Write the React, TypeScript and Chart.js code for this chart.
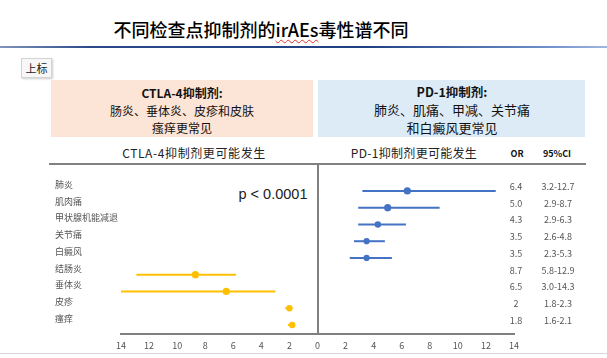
import React, { useEffect, useRef } from 'react';
import { Chart, registerables } from 'chart.js';

Chart.register(...registerables);

// ---------- data ----------
const categories = ['肺炎', '肌肉痛', '甲状腺机能减退', '关节痛', '白癜风', '结肠炎', '垂体炎', '皮疹', '瘙痒'];
const oddsRatios = [6.4, 5.0, 4.3, 3.5, 3.5, 8.7, 6.5, 2, 1.8];
const ciLower = [3.2, 2.9, 2.9, 2.6, 2.3, 5.8, 3.0, 1.8, 1.6];
const ciUpper = [12.7, 8.7, 6.3, 4.8, 5.3, 12.9, 14.3, 2.3, 2.1];
const favoredDrug = ['PD-1', 'PD-1', 'PD-1', 'PD-1', 'PD-1', 'CTLA-4', 'CTLA-4', 'CTLA-4', 'CTLA-4'];
const orLabels = ['6.4', '5.0', '4.3', '3.5', '3.5', '8.7', '6.5', '2', '1.8'];
const ciLabels = ['3.2-12.7', '2.9-8.7', '2.9-6.3', '2.6-4.8', '2.3-5.3', '5.8-12.9', '3.0-14.3', '1.8-2.3', '1.6-2.1'];
const xTickValues = [-14, -12, -10, -8, -6, -4, -2, 0, 2, 4, 6, 8, 10, 12, 14];
const xTickLabels = ['14', '12', '10', '8', '6', '4', '2', '0', '2', '4', '6', '8', '10', '12', '14'];

const FONT = '"Noto Sans CJK SC", "Noto Sans", sans-serif';
const BLUE = '#4472C4';
const GOLD = '#FFC000';
const GRAY = '#808080';

const sign = (i: number) => (favoredDrug[i] === 'PD-1' ? 1 : -1);

const forestPlugin = {
  id: 'forest',
  beforeDatasetsDraw(chart: any) {
    const { ctx, chartArea, scales } = chart;
    const x = scales.x;
    const y = scales.y;
    ctx.save();
    ctx.beginPath();
    ctx.rect(chartArea.left, chartArea.top, chartArea.right - chartArea.left, chartArea.bottom - chartArea.top);
    ctx.clip();
    categories.forEach((_, i) => {
      const s = sign(i);
      const py = y.getPixelForValue(i);
      ctx.strokeStyle = s > 0 ? BLUE : GOLD;
      ctx.lineWidth = 2;
      ctx.beginPath();
      ctx.moveTo(x.getPixelForValue(s * ciLower[i]), py);
      ctx.lineTo(x.getPixelForValue(s * ciUpper[i]), py);
      ctx.stroke();
    });
    ctx.restore();
    // zero divider
    ctx.save();
    const zx = Math.round(x.getPixelForValue(0));
    ctx.strokeStyle = GRAY;
    ctx.lineWidth = 2;
    ctx.beginPath();
    ctx.moveTo(zx, chartArea.top);
    ctx.lineTo(zx, chartArea.bottom);
    ctx.stroke();
    ctx.restore();
  },
  afterDraw(chart: any) {
    const { ctx, scales } = chart;
    const y = scales.y;
    ctx.save();
    ctx.fillStyle = '#555555';
    ctx.font = `9px ${FONT}`;
    ctx.textBaseline = 'middle';
    categories.forEach((c, i) => {
      const py = y.getPixelForValue(i);
      ctx.textAlign = 'left';
      ctx.fillText(c, 55, py - 6.5);
      ctx.textAlign = 'center';
      ctx.fillText(orLabels[i], 516, py - 4.5);
      ctx.fillText(ciLabels[i], 558, py - 4.5);
    });
    ctx.restore();
  },
};

function ForestChart() {
  const ref = useRef<HTMLCanvasElement | null>(null);
  useEffect(() => {
    if (!ref.current) return;
    const pdIdx = categories.map((_, i) => i).filter((i) => favoredDrug[i] === 'PD-1');
    const ctIdx = categories.map((_, i) => i).filter((i) => favoredDrug[i] === 'CTLA-4');
    const chart = new Chart(ref.current, {
      type: 'scatter',
      data: {
        datasets: [
          {
            label: 'PD-1',
            data: pdIdx.map((i) => ({ x: oddsRatios[i], y: i })),
            backgroundColor: BLUE,
            borderColor: BLUE,
            pointRadius: [3.6, 3.6, 3.2, 3.1, 3.1],
            borderWidth: 0,
          },
          {
            label: 'CTLA-4',
            data: ctIdx.map((i) => ({ x: -oddsRatios[i], y: i })),
            backgroundColor: GOLD,
            borderColor: GOLD,
            pointRadius: [3.6, 3.6, 3.2, 3.2],
            borderWidth: 0,
          },
        ],
      },
      options: {
        responsive: false,
        animation: false,
        layout: { padding: { left: 121, right: 93, top: 164, bottom: 0 } },
        plugins: { legend: { display: false }, tooltip: { enabled: false } },
        scales: {
          x: {
            type: 'linear',
            min: -14,
            max: 14,
            afterBuildTicks: (scale: any) => {
              scale.ticks = xTickValues.map((v) => ({ value: v }));
            },
            afterFit: (scale: any) => {
              scale.height = 24;
            },
            grid: { display: false, drawTicks: false },
            border: { display: true, color: GRAY, width: 2 },
            ticks: {
              padding: 6,
              color: '#555555',
              font: { size: 9, family: FONT },
              maxRotation: 0,
              autoSkip: false,
              callback: (_v: any, idx: number) => xTickLabels[idx],
            },
          },
          y: {
            type: 'linear',
            display: false,
            reverse: true,
            min: -1.61,
            max: 8.54,
          },
        },
      },
      plugins: [forestPlugin],
    });
    return () => chart.destroy();
  }, []);
  return <canvas ref={ref} width={607} height={358} style={{ position: 'absolute', left: 0, top: 0 }} />;
}

const abs = (l: number, t: number): React.CSSProperties => ({ position: 'absolute', left: l, top: t });
const centered = (cx: number, cy: number, extra: React.CSSProperties = {}): React.CSSProperties => ({
  position: 'absolute',
  left: cx,
  top: cy,
  transform: 'translate(-50%, -50%)',
  whiteSpace: 'nowrap',
  fontFamily: FONT,
  ...extra,
});

export default function App() {
  return (
    <div style={{ position: 'fixed', left: 0, top: 0, width: 607, height: 358, background: '#fff', overflow: 'hidden', fontFamily: FONT }}>
      {/* title */}
      <div style={centered(261, 29, { fontSize: 18, color: '#000', lineHeight: '22px', fontWeight: 500 })}>
        不同检查点抑制剂的
        <span style={{ textDecoration: 'underline wavy #e03030', textDecorationThickness: 1, textUnderlineOffset: 2 }}>irAEs</span>
        毒性谱不同
      </div>
      <div
        style={{
          ...abs(0, 45.5),
          width: 607,
          height: 2.5,
          background: 'linear-gradient(to right, #8094bb 0%, #2c4a8a 15%, #1f3f82 60%, #6f8fc9 90%, #9fb6e0 100%)',
        }}
      />
      {/* button */}
      <div
        style={{
          ...abs(21, 58),
          width: 31,
          height: 20,
          boxSizing: 'border-box',
          border: '1px solid #d4d4d4',
          background: '#f7f7f7',
          boxShadow: '1px 1px 2px rgba(0,0,0,0.2)',
          fontSize: 11,
          lineHeight: '18px',
          textAlign: 'center',
          color: '#222',
        }}
      >
        上标
      </div>
      {/* boxes */}
      <div style={{ ...abs(51, 80), width: 262, height: 57, background: '#FCE4D6' }} />
      <div style={{ ...abs(318, 80), width: 267, height: 57, background: '#DDEBF7' }} />
      <div style={centered(182, 92, { fontSize: 12, fontWeight: 700, color: '#111' })}>CTLA-4抑制剂:</div>
      <div style={centered(182, 109.5, { fontSize: 12, color: '#111' })}>肠炎、垂体炎、皮疹和皮肤</div>
      <div style={centered(182, 127, { fontSize: 12, color: '#111' })}>瘙痒更常见</div>
      <div style={centered(452, 91, { fontSize: 12.5, fontWeight: 700, color: '#111' })}>PD-1抑制剂:</div>
      <div style={centered(452, 108.5, { fontSize: 13, color: '#111' })}>肺炎、肌痛、甲减、关节痛</div>
      <div style={centered(452, 127, { fontSize: 13, color: '#111' })}>和白癜风更常见</div>
      {/* column headers */}
      <div style={centered(194, 152, { fontSize: 12, color: '#222', letterSpacing: 0.6 })}>CTLA-4抑制剂更可能发生</div>
      <div style={centered(414, 152, { fontSize: 12, color: '#222', letterSpacing: 0.3 })}>PD-1抑制剂更可能发生</div>
      <div style={centered(517, 153, { fontSize: 9, fontWeight: 700, color: '#111' })}>OR</div>
      <div style={centered(557, 153, { fontSize: 9, fontWeight: 700, color: '#111' })}>95%CI</div>
      {/* top rule */}
      <div style={{ ...abs(49, 163), width: 537, height: 2, background: GRAY }} />
      {/* p value */}
      <div style={centered(273, 194, { fontSize: 14.5, color: '#222', fontFamily: '"Liberation Sans", Arial, sans-serif' })}>p &lt; 0.0001</div>
      {/* slide bottom edge */}
      <div style={{ ...abs(0, 353), width: 607, height: 1, background: '#d8d8d8' }} />
      <ForestChart />
    </div>
  );
}
